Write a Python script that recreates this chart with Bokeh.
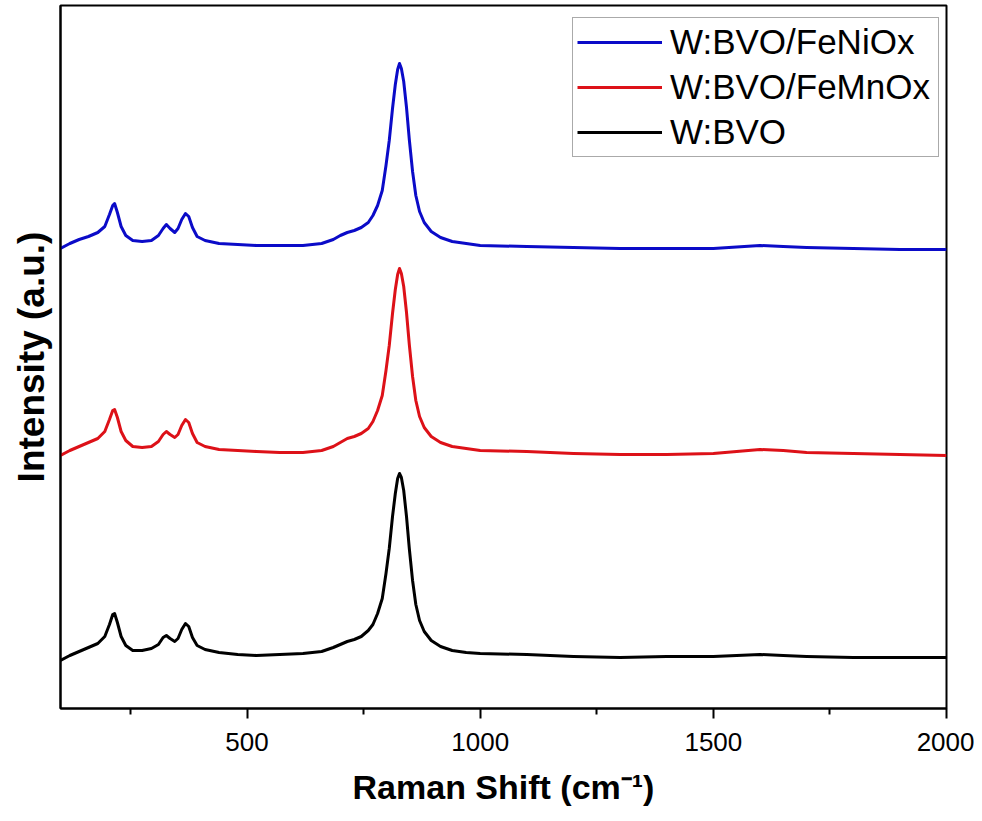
from bokeh.plotting import figure
from bokeh.models import Range1d, FixedTicker, Legend, LegendItem
from bokeh.embed import file_html
from bokeh.resources import INLINE

# ---- data (intensity in arbitrary units) ----
raman_shift = [100, 120, 140, 160, 180, 195, 205, 212, 216, 222,
               230, 240, 255, 275, 295, 310, 320, 327, 335, 345,
               352, 360, 368, 375, 383, 393, 410, 440, 480, 520,
               570, 620, 660, 685, 700, 715, 730, 745, 760, 770,
               780, 790, 798, 805, 812, 818, 823, 827, 831, 836,
               842, 848, 855, 862, 870, 880, 895, 915, 940, 970,
               1000, 1100, 1200, 1300, 1400, 1500, 1600, 1650, 1700, 1800,
               1900, 2000]

bvo_int = [48, 53, 57, 61, 65, 72, 84, 94, 95, 86,
           72, 63, 58, 58, 60, 64, 71, 73, 70, 67,
           70, 79, 85, 82, 71, 63, 59, 56, 54, 53,
           54, 55, 57, 61, 64, 67, 69, 72, 78, 84,
           95, 110, 135, 160, 192, 215, 230, 235, 231, 218,
           192, 160, 128, 104, 88, 77, 68, 62, 58, 56,
           55, 54, 52, 51, 52, 52, 54, 53, 52, 51,
           51, 51]

femnox_int = [253, 258, 262, 266, 270, 277, 289, 298, 299, 291,
              277, 268, 262, 261, 262, 267, 274, 277, 274, 271,
              274, 283, 289, 286, 275, 266, 262, 259, 258, 257,
              256, 256, 258, 262, 266, 270, 272, 275, 280, 287,
              298, 313, 338, 363, 395, 419, 434, 440, 435, 422,
              396, 364, 332, 308, 292, 281, 272, 266, 262, 260,
              258, 257, 255, 254, 254, 255, 259, 258, 256, 255,
              254, 253]

fenio_int = [460, 465, 469, 472, 476, 482, 494, 503, 505, 496,
             482, 473, 468, 467, 468, 473, 480, 484, 480, 476,
             480, 489, 495, 492, 481, 472, 468, 465, 464, 463,
             463, 463, 465, 469, 473, 476, 478, 481, 486, 493,
             503, 518, 543, 568, 600, 624, 639, 645, 640, 627,
             601, 569, 537, 513, 497, 486, 477, 471, 467, 465,
             463, 462, 461, 460, 460, 460, 463, 462, 461, 460,
             459, 459]

x_major = [500, 1000, 1500, 2000]
x_minor = [250, 750, 1250, 1750]

labels = ["W:BVO/FeNiOx", "W:BVO/FeMnOx", "W:BVO"]
colors = ["#0B0BC8", "#DD1118", "#000000"]

FONT = "Liberation Sans"

p = figure(width=974, height=813, output_backend="svg", toolbar_location=None,
           x_range=Range1d(100, 2000), y_range=Range1d(0, 703),
           min_border_left=60, min_border_right=28, min_border_top=5,
           min_border_bottom=105)
p.grid.visible = False
p.background_fill_color = "white"
p.border_fill_color = "white"
p.outline_line_color = "black"
p.outline_line_width = 2
p.outline_line_alpha = 1

r_ni = p.line(raman_shift, fenio_int, line_color=colors[0], line_width=3, line_join="round")
r_mn = p.line(raman_shift, femnox_int, line_color=colors[1], line_width=3, line_join="round")
r_b = p.line(raman_shift, bvo_int, line_color=colors[2], line_width=3, line_join="round")

# x axis
xa = p.xaxis[0]
xa.ticker = FixedTicker(ticks=x_major, minor_ticks=x_minor)
xa.axis_line_width = 2
xa.major_tick_line_width = 2
xa.minor_tick_line_width = 2
xa.major_tick_in = 0
xa.major_tick_out = 10
xa.minor_tick_in = 0
xa.minor_tick_out = 6
xa.major_label_text_font = FONT
xa.major_label_text_font_size = "26px"
xa.major_label_text_color = "black"
xa.major_label_standoff = 14
xa.axis_label = "Raman Shift (cm\u207b\u00b9)"
xa.axis_label_text_font = FONT
xa.axis_label_text_font_style = "bold"
xa.axis_label_text_font_size = "34px"
xa.axis_label_text_color = "black"
xa.axis_label_standoff = 14

# y axis (no ticks)
ya = p.yaxis[0]
ya.ticker = FixedTicker(ticks=[])
ya.axis_line_width = 2
ya.major_tick_in = 0
ya.major_tick_out = 0
ya.minor_tick_in = 0
ya.minor_tick_out = 0
ya.major_label_standoff = 0
ya.axis_label = "Intensity (a.u.)"
ya.axis_label_text_font = FONT
ya.axis_label_text_font_style = "bold"
ya.axis_label_text_font_size = "37px"
ya.axis_label_text_color = "black"
ya.axis_label_standoff = 9

legend = Legend(items=[LegendItem(label=labels[0], renderers=[r_ni]),
                       LegendItem(label=labels[1], renderers=[r_mn]),
                       LegendItem(label=labels[2], renderers=[r_b])],
                location=(512, 551))
legend.border_line_color = "#555555"
legend.border_line_width = 1.5
legend.background_fill_color = "white"
legend.background_fill_alpha = 1
legend.glyph_width = 85
legend.glyph_height = 20
legend.label_height = 40
legend.label_width = 264
legend.label_standoff = 8
legend.spacing = 5
legend.padding = 4
legend.margin = 0
legend.label_text_font = FONT
legend.label_text_font_size = "35px"
legend.label_text_color = "black"
p.add_layout(legend, "center")

open("out.html", "w").write(file_html(p, INLINE))
